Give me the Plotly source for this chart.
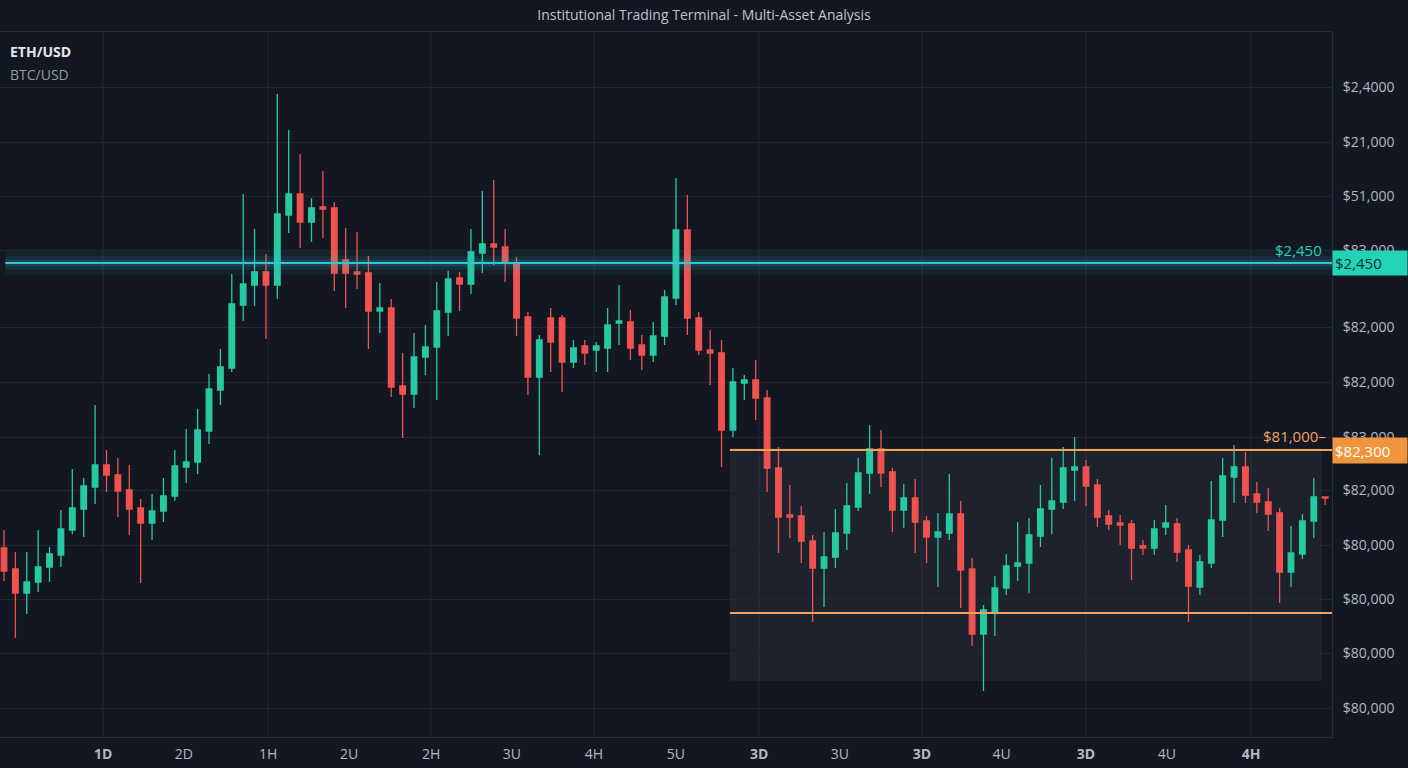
import plotly.graph_objects as go

# ---- data (prices; axis labels in the source are decorative) ----
candle_open = [2165, 2144, 2120, 2131, 2146, 2158, 2183, 2204, 2226, 2248, 2238, 2223, 2205, 2190, 2202, 2217, 2246, 2251, 2282, 2323,
               2345, 2408, 2428, 2441, 2428, 2498, 2519, 2491, 2506, 2505, 2453, 2441, 2440, 2402, 2405, 2327, 2319, 2356, 2366, 2401,
               2435, 2429, 2460, 2469, 2466, 2450, 2396, 2336, 2395, 2395, 2351, 2367, 2363, 2365, 2390, 2391, 2368, 2358, 2377, 2415,
               2483, 2395, 2363, 2360, 2283, 2330, 2333, 2315, 2245, 2198, 2197, 2172, 2145, 2156, 2180, 2206, 2240, 2264, 2241, 2203,
               2215, 2192, 2176, 2180, 2199, 2144, 2079, 2101, 2125, 2147, 2150, 2177, 2204, 2211, 2243, 2246, 2228, 2197, 2190, 2189,
               2167, 2165, 2186, 2189, 2163, 2126, 2150, 2193, 2236, 2246, 2219, 2211, 2200, 2141, 2159, 2192, 2216]
candle_high = [2183, 2161, 2161, 2183, 2166, 2203, 2244, 2235, 2308, 2263, 2255, 2248, 2214, 2219, 2235, 2263, 2284, 2304, 2339, 2364,
               2439, 2519, 2484, 2459, 2619, 2583, 2559, 2515, 2542, 2511, 2485, 2481, 2457, 2430, 2414, 2360, 2380, 2388, 2431, 2442,
               2441, 2484, 2522, 2533, 2484, 2456, 2401, 2378, 2405, 2398, 2373, 2373, 2371, 2405, 2428, 2403, 2378, 2391, 2423, 2535,
               2518, 2401, 2383, 2373, 2345, 2338, 2353, 2323, 2266, 2228, 2207, 2178, 2181, 2204, 2230, 2255, 2288, 2283, 2245, 2229,
               2234, 2197, 2200, 2239, 2212, 2155, 2108, 2137, 2159, 2191, 2195, 2228, 2255, 2266, 2276, 2253, 2234, 2203, 2198, 2193,
               2173, 2193, 2208, 2195, 2168, 2158, 2232, 2255, 2268, 2261, 2231, 2225, 2205, 2187, 2199, 2235, 2216]
candle_low = [2132, 2075, 2099, 2121, 2131, 2146, 2179, 2176, 2209, 2221, 2196, 2178, 2130, 2173, 2191, 2212, 2230, 2239, 2269, 2308,
              2341, 2392, 2407, 2374, 2414, 2480, 2465, 2471, 2475, 2422, 2405, 2424, 2364, 2380, 2316, 2275, 2305, 2338, 2313, 2377,
              2402, 2419, 2440, 2448, 2431, 2377, 2318, 2258, 2341, 2321, 2345, 2348, 2341, 2341, 2368, 2353, 2343, 2351, 2368, 2408,
              2378, 2358, 2328, 2246, 2276, 2313, 2293, 2221, 2160, 2175, 2150, 2091, 2106, 2145, 2163, 2202, 2219, 2226, 2181, 2185,
              2160, 2150, 2126, 2173, 2105, 2067, 2022, 2077, 2118, 2132, 2120, 2166, 2179, 2204, 2212, 2207, 2186, 2183, 2168, 2133,
              2158, 2158, 2178, 2151, 2091, 2118, 2145, 2176, 2210, 2210, 2200, 2182, 2110, 2126, 2154, 2175, 2208]
candle_close = [2142, 2120, 2131, 2146, 2159, 2184, 2205, 2227, 2248, 2238, 2222, 2204, 2190, 2202, 2217, 2247, 2251, 2283, 2324, 2346,
                2409, 2429, 2441, 2428, 2499, 2519, 2491, 2505, 2504, 2440, 2440, 2439, 2402, 2405, 2326, 2319, 2356, 2366, 2402, 2434,
                2429, 2461, 2469, 2466, 2450, 2395, 2336, 2373, 2371, 2351, 2365, 2360, 2367, 2388, 2392, 2365, 2358, 2377, 2416, 2483,
                2395, 2363, 2360, 2283, 2331, 2333, 2315, 2245, 2196, 2196, 2172, 2145, 2156, 2180, 2207, 2240, 2264, 2240, 2203, 2215,
                2191, 2176, 2181, 2199, 2143, 2079, 2103, 2125, 2147, 2150, 2178, 2204, 2212, 2245, 2246, 2227, 2196, 2189, 2188, 2165,
                2165, 2184, 2190, 2161, 2127, 2151, 2193, 2237, 2246, 2218, 2211, 2199, 2141, 2160, 2192, 2216, 2215]
candle_index = list(range(len(candle_open)))

x_tick_pos = [8.7, 15.8, 23.2, 30.3, 37.5, 44.6, 51.8, 59.0, 66.3, 73.4, 80.6, 87.6, 95.0, 102.1, 109.5]
x_tick_text = ["<b>1D</b>", "2D", "1H", "2U", "2H", "3U", "4H", "5U", "<b>3D</b>", "3U", "<b>3D</b>", "4U", "<b>3D</b>", "4U", "<b>4H</b>"]

y_tick_pos = [2626, 2571, 2517, 2463, 2386, 2331, 2276, 2223, 2168, 2114, 2060, 2005]
y_tick_text = ["$2,4000", "$21,000", "$51,000", "$83,000", "$82,000", "$82,000", "$83,000", "$82,000",
               "$80,000", "$80,000", "$80,000", "$80,000"]

resistance_level = 2450
resistance_label = "$2,450"
range_top = 2263
range_bottom = 2100
range_top_label = "$81,000\u2013"
range_tag = "$82,300"
zone_start = 63.74
zone_end = 115.7
zone_top = 2265
zone_bottom = 2032

BG = "#131722"
GRID = "#222733"
UP = "#26c9a3"
DOWN = "#f0524f"
CYAN = "#2fc6d6"
TEAL = "#22d3b6"
ORANGE = "#f0a15a"
FONT = "'Open Sans', 'Noto Sans', sans-serif"

fig = go.Figure()

fig.add_trace(go.Candlestick(
    x=candle_index, open=candle_open, high=candle_high, low=candle_low, close=candle_close,
    increasing=dict(line=dict(color=UP, width=1.3), fillcolor=UP),
    decreasing=dict(line=dict(color=DOWN, width=1.3), fillcolor=DOWN),
    whiskerwidth=0, showlegend=False, name="ETH/USD",
))

shapes = []
# vertical grid lines at every other tick
for i, v in enumerate(x_tick_pos):
    if i % 2 == 0:
        shapes.append(dict(type="line", xref="x", yref="paper", x0=v, x1=v, y0=0, y1=1,
                           line=dict(color=GRID, width=1), layer="below"))
# consolidation zone
shapes.append(dict(type="rect", xref="x", yref="y", x0=zone_start, x1=zone_end, y0=zone_bottom, y1=zone_top,
                   fillcolor="rgba(140,150,170,0.09)", line=dict(width=0), layer="below"))
# glow + resistance line
for w, a in ((24, 0.06), (14, 0.08), (7, 0.14)):
    shapes.append(dict(type="line", xref="paper", yref="y", x0=0.004, x1=1, y0=resistance_level, y1=resistance_level,
                       line=dict(color=f"rgba(47,198,214,{a})", width=w), layer="above"))
shapes.append(dict(type="line", xref="paper", yref="y", x0=0.004, x1=1, y0=resistance_level, y1=resistance_level,
                   line=dict(color=CYAN, width=2), layer="above"))
# range lines
for lvl in (range_top, range_bottom):
    shapes.append(dict(type="line", xref="x", yref="y", x0=zone_start, x1=116.6, y0=lvl, y1=lvl,
                       line=dict(color=ORANGE, width=2), layer="above"))

annotations = [
    dict(text="<b>ETH/USD</b>", xref="paper", yref="paper", x=0.006, y=0.973, xanchor="left", yanchor="middle",
         showarrow=False, font=dict(size=14, color="#e6e8ec")),
    dict(text="BTC/USD", xref="paper", yref="paper", x=0.006, y=0.940, xanchor="left", yanchor="middle",
         showarrow=False, font=dict(size=14, color="#9499a2")),
    dict(text=resistance_label, xref="paper", yref="y", x=0.994, y=resistance_level + 13, xanchor="right",
         yanchor="middle", showarrow=False, font=dict(size=15, color=TEAL)),
    dict(text=resistance_label, xref="paper", yref="y", x=1.0, y=resistance_level, xanchor="left",
         yanchor="middle", showarrow=False, font=dict(size=15, color="#0e2b2b"), bgcolor=TEAL,
         width=70, height=20, borderpad=2, align="left"),
    dict(text=range_top_label, xref="paper", yref="y", x=0.997, y=range_top + 14, xanchor="right",
         yanchor="middle", showarrow=False, font=dict(size=15, color=ORANGE)),
    dict(text=range_tag, xref="paper", yref="y", x=1.0, y=range_top, xanchor="left",
         yanchor="middle", showarrow=False, font=dict(size=15, color="#ffffff"), bgcolor="#f0953c",
         width=70, height=21, borderpad=2, align="left"),
]

fig.update_layout(
    width=1408, height=768,
    paper_bgcolor=BG, plot_bgcolor=BG,
    margin=dict(l=0, r=76, t=32, b=31),
    font=dict(family=FONT, color="#b4b8c0"),
    title=dict(text="Institutional Trading Terminal - Multi-Asset Analysis", x=0.5, xanchor="center",
               y=1 - 15 / 768, yanchor="middle", font=dict(size=14, color="#bfc3ca")),
    shapes=shapes, annotations=annotations,
    xaxis=dict(range=[-0.35, 116.6], tickvals=x_tick_pos, ticktext=x_tick_text, showgrid=False, zeroline=False,
               showline=True, mirror=True, linecolor="#262b36", linewidth=1, ticks="", ticklabelstandoff=4,
               tickfont=dict(size=14, color="#b4b8c0"), rangeslider=dict(visible=False), fixedrange=True),
    yaxis=dict(range=[1976, 2681], side="right", tickvals=y_tick_pos, ticktext=y_tick_text, showgrid=True,
               gridcolor=GRID, gridwidth=1, zeroline=False, showline=True, linecolor="#262b36", ticks="",
               ticklabelstandoff=7, tickfont=dict(size=14, color="#b4b8c0"), fixedrange=True),
)

fig.write_html(
    "out.html",
    config={"displayModeBar": False},
    post_script="document.body.style.margin='0';document.body.style.padding='0';document.body.style.overflow='hidden';document.body.style.background='#131722';",
)
